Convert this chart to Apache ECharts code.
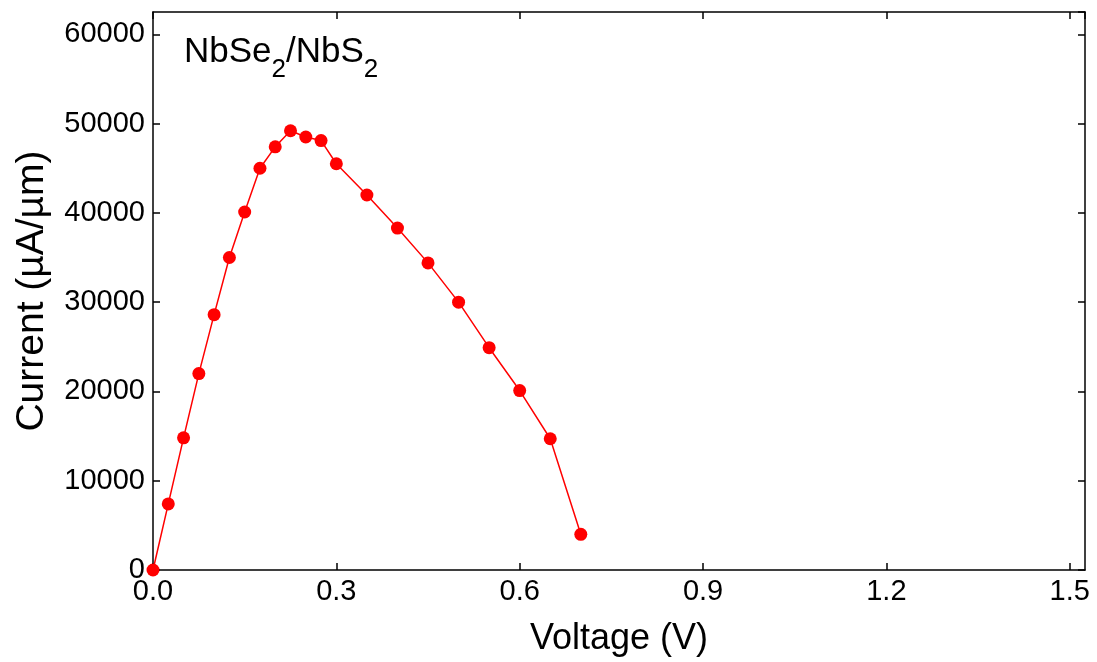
<!DOCTYPE html>
<html>
<head>
<meta charset="utf-8">
<script src="https://cdn.jsdelivr.net/npm/echarts@6/dist/echarts.min.js"></script>
<style>
  html, body { margin: 0; padding: 0; background: #fff; }
  #chart { width: 1097px; height: 662px; }
</style>
</head>
<body>
<div id="chart"></div>
<script>
const voltage = [0, 0.025, 0.05, 0.075, 0.1, 0.125, 0.15, 0.175, 0.2, 0.225, 0.25, 0.275,
  0.3, 0.35, 0.4, 0.45, 0.5, 0.55, 0.6, 0.65, 0.7];
const current = [0, 7400, 14800, 22000, 28600, 35000, 40100, 45000, 47400, 49200, 48500, 48100,
  45500, 42000, 38300, 34400, 30000, 24900, 20100, 14700, 4000];

const FONT = "'Liberation Sans', Arial, sans-serif";
const X_MAX = 1.525;
const Y_MAX = 62500;

const chart = echarts.init(document.getElementById("chart"));

const baseAxis = {
  axisLine: { show: true, onZero: false, lineStyle: { color: "#000", width: 1.5 } },
  axisTick: { show: true, inside: true, length: 7, lineStyle: { color: "#000", width: 1.5 } },
  splitLine: { show: false },
};

chart.setOption({
  animation: false,
  grid: { left: 153, top: 12, right: 12, bottom: 92, containLabel: false, outerBoundsMode: "none" },
  title: {
    left: 184,
    top: 21,
    padding: 0,
    text: "{a|NbSe}{s|2}{a|/NbS}{s|2}",
    textStyle: {
      rich: {
        a: { fontFamily: FONT, fontSize: 35, fontWeight: "normal", color: "#000" },
        s: { fontFamily: FONT, fontSize: 26, fontWeight: "normal", color: "#000", padding: [36, 0, 0, 0] },
      },
    },
  },
  xAxis: [
    {
      ...baseAxis,
      type: "value",
      min: 0,
      max: X_MAX,
      interval: 0.3,
      name: "Voltage (V)",
      nameLocation: "middle",
      nameGap: 51,
      nameTextStyle: { fontFamily: FONT, fontSize: 36, color: "#000" },
      axisLabel: {
        fontFamily: FONT, fontSize: 29, color: "#000", margin: 7,
        showMaxLabel: false,
        formatter: (v) => v.toFixed(1),
      },
    },
    {
      ...baseAxis,
      type: "value",
      position: "top",
      min: 0,
      max: X_MAX,
      interval: 0.3,
      axisLabel: { show: false },
    },
  ],
  yAxis: [
    {
      ...baseAxis,
      type: "value",
      min: 0,
      max: Y_MAX,
      interval: 10000,
      name: "Current (µA/µm)",
      nameLocation: "middle",
      nameGap: 101,
      nameTextStyle: { fontFamily: FONT, fontSize: 39, color: "#000" },
      axisLabel: {
        fontFamily: FONT, fontSize: 29, color: "#000", margin: 8,
        showMaxLabel: false,
        formatter: (v) => String(v),
      },
    },
    {
      ...baseAxis,
      type: "value",
      position: "right",
      min: 0,
      max: Y_MAX,
      interval: 10000,
      axisLabel: { show: false },
    },
  ],
  series: [
    {
      type: "line",
      data: voltage.map((v, i) => [v, current[i]]),
      symbol: "circle",
      symbolSize: 13,
      itemStyle: { color: "#ff0000" },
      lineStyle: { color: "#ff0000", width: 1.5 },
      clip: false,
    },
  ],
});
</script>
</body>
</html>
